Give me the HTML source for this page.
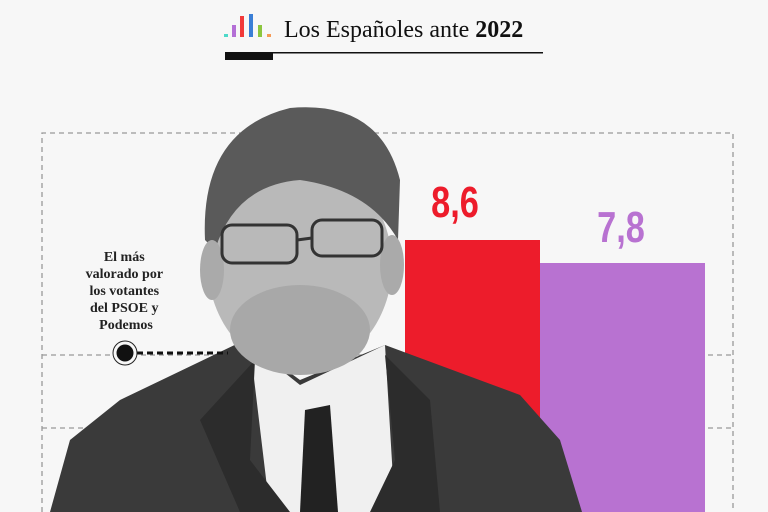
<!DOCTYPE html>
<html><head><meta charset="utf-8"><style>
html,body{margin:0;padding:0;background:#f7f7f7;}
svg{display:block}
</style></head><body>
<svg width="768" height="512" viewBox="0 0 768 512" xmlns="http://www.w3.org/2000/svg">
<rect width="768" height="512" fill="#f7f7f7"/>
<!-- header -->
<rect x="224" y="34" width="4" height="3" fill="#4dd9c9"/>
<rect x="232" y="25" width="4" height="12" fill="#b46fd6"/>
<rect x="240" y="16" width="4" height="21" fill="#f23a3a"/>
<rect x="249" y="14" width="4" height="23" fill="#3a7fd6"/>
<rect x="258" y="25" width="4" height="12" fill="#8cc63f"/>
<rect x="267" y="34" width="4" height="3" fill="#f59a57"/>
<text x="284" y="37" font-family="Liberation Serif, serif" font-size="24" fill="#111">Los Españoles ante <tspan font-weight="bold">2022</tspan></text>
<rect x="225" y="52" width="318" height="1.5" fill="#111"/>
<rect x="225" y="52" width="48" height="8" fill="#111"/>
<!-- grid -->
<g stroke="#999" stroke-width="1.3" stroke-dasharray="5,4" fill="none">
<path d="M42 512 V133 H733 V512"/>
<path d="M42 355 H733"/>
<path d="M42 428 H733"/>
</g>
<!-- bars -->
<rect x="405" y="240" width="135" height="272" fill="#ed1c2b"/>
<rect x="540" y="263" width="165" height="249" fill="#b872d1"/>
<text transform="translate(455 217) scale(0.78 1)" text-anchor="middle" font-family="Liberation Sans, sans-serif" font-weight="bold" font-size="44" fill="#ed1c2b">8,6</text>
<text transform="translate(621 242) scale(0.78 1)" text-anchor="middle" font-family="Liberation Sans, sans-serif" font-weight="bold" font-size="44" fill="#b872d1">7,8</text>
<!-- person -->
<path d="M50 512 L70 440 L120 400 L245 340 L300 380 L385 345 L520 395 L560 440 L582 512 Z" fill="#3a3a3a"/>
<path d="M250 345 L300 385 L385 345 L395 512 L270 512 Z" fill="#f0f0f0"/>
<path d="M305 410 L330 405 L338 512 L300 512 Z" fill="#222"/>
<path d="M255 360 L250 460 L290 512 L240 512 L200 420 Z" fill="#2c2c2c"/>
<path d="M385 355 L395 460 L370 512 L440 512 L430 400 Z" fill="#2c2c2c"/>
<ellipse cx="300" cy="265" rx="92" ry="105" fill="#b9b9b9"/>
<ellipse cx="300" cy="330" rx="70" ry="45" fill="#a8a8a8"/>
<path d="M205 240 Q200 130 290 108 Q380 100 400 180 L398 240 Q370 190 300 180 Q235 185 215 250 Z" fill="#5a5a5a"/>
<ellipse cx="212" cy="270" rx="12" ry="30" fill="#aaa"/>
<ellipse cx="392" cy="265" rx="12" ry="30" fill="#aaa"/>
<rect x="222" y="225" width="75" height="38" rx="10" fill="none" stroke="#333" stroke-width="3"/>
<rect x="312" y="220" width="70" height="36" rx="10" fill="none" stroke="#333" stroke-width="3"/>
<path d="M297 240 L312 238" stroke="#333" stroke-width="3"/>
<!-- annotation -->
<text font-family="Liberation Serif, serif" font-weight="bold" font-size="14" fill="#222" text-anchor="middle">
<tspan x="126" y="261">El más</tspan>
<tspan x="126" y="278">valorado por</tspan>
<tspan x="126" y="295">los votantes</tspan>
<tspan x="126" y="312">del PSOE y</tspan>
<tspan x="126" y="329">Podemos</tspan>
</text>
<path d="M137 353 H228" stroke="#111" stroke-width="3" stroke-dasharray="6,4"/>
<circle cx="125" cy="353" r="12" fill="#f7f7f7" stroke="#222" stroke-width="1"/>
<circle cx="125" cy="353" r="8.5" fill="#111"/>
</svg>
</body></html>
